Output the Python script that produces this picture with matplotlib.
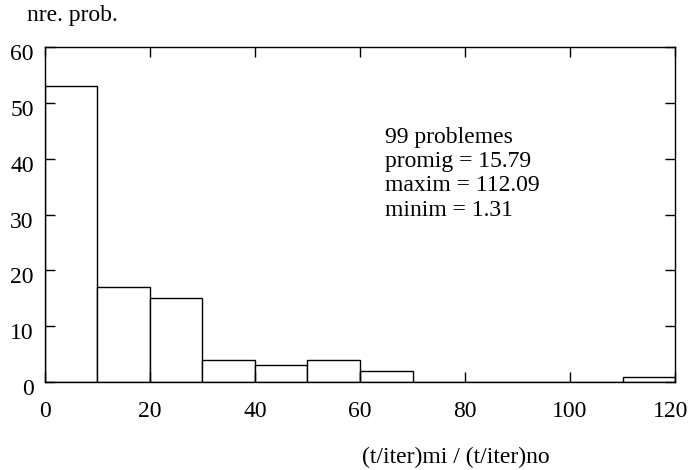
import numpy as np
import matplotlib.pyplot as plt
import matplotlib.transforms as mtransforms

# histogram data
bin_left = [0, 10, 20, 30, 40, 50, 60, 70, 80, 90, 100, 110]
counts = [53, 17, 15, 4, 3, 4, 2, 0, 0, 0, 0, 1]
stats_text = ["99 problemes", "promig = 15.79", "maxim = 112.09", "minim = 1.31"]

plt.rcParams['font.family'] = ['Liberation Serif', 'DejaVu Serif']
plt.rcParams['font.size'] = 17

fig = plt.figure(figsize=(6.91, 4.70), dpi=100)
ax = fig.add_axes([0.065, 0.187, 0.912, 0.713])

ax.bar(bin_left, counts, width=10, align='edge', facecolor='white',
       edgecolor='black', linewidth=1.0)

ax.set_xlim(0, 120)
ax.set_ylim(0, 60)
ax.set_xticks(np.arange(0, 121, 20))
ax.set_yticks(np.arange(0, 61, 10))
ax.tick_params(direction='in', length=7, width=1, top=True, right=True,
               labelsize=17)
ax.tick_params(axis='x', pad=13.5)
ax.tick_params(axis='y', pad=8)
for s in ax.spines.values():
    s.set_linewidth(1.0)

# y labels sit a little below their ticks in the original
shift = mtransforms.ScaledTranslation(0, -5 / 100, fig.dpi_scale_trans)
for lab in ax.get_yticklabels():
    lab.set_transform(lab.get_transform() + shift)

# keep the last x label inside the figure
fig.canvas.draw()
last = ax.get_xticklabels()[-1]
last.set_transform(last.get_transform() +
                   mtransforms.ScaledTranslation(-4 / 100, 0, fig.dpi_scale_trans))

# stats block, one line at a time
for i, line in enumerate(stats_text):
    ax.text(64.8, 43.85 - 4.35 * i, line, va='center', ha='left', fontsize=17)

fig.text(27 / 691, 1 - 15 / 470, "nre. prob.", ha='left', va='center', fontsize=17)
fig.text(456 / 691, 1 - 457 / 470, "(t/iter)mi / (t/iter)no", ha='center',
         va='center', fontsize=17)

fig.savefig("out.png", dpi=100)
